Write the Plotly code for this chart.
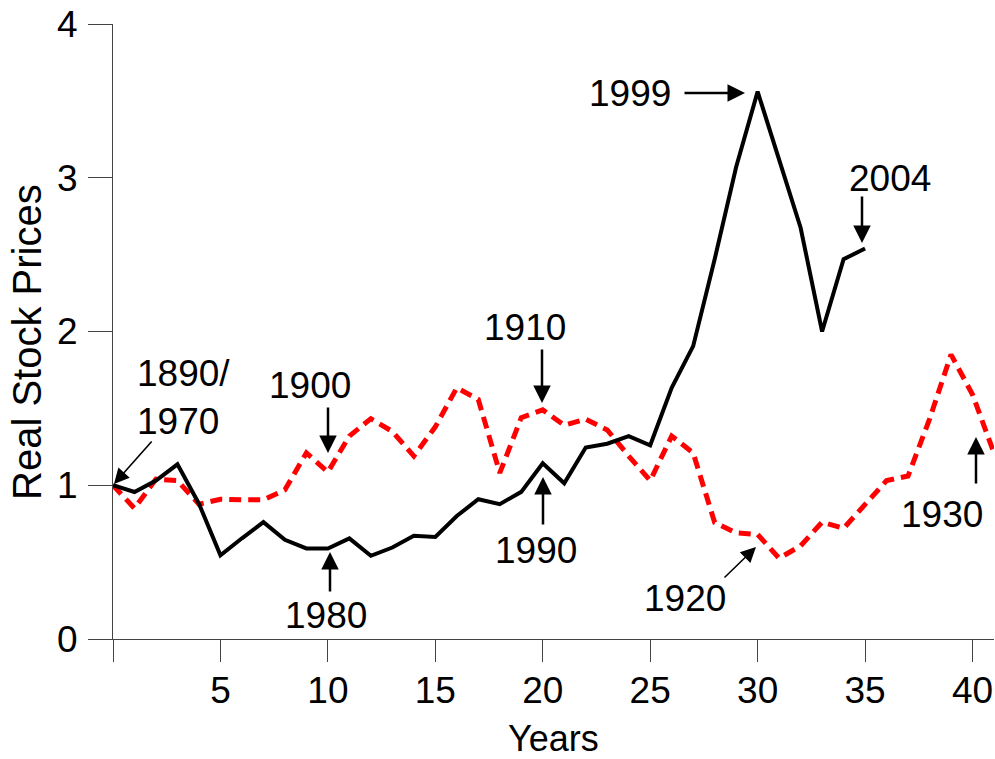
import plotly.graph_objects as go

# ---- data ----
years_black = list(range(0, 36))
black = [1.00, 0.956, 1.03, 1.136, 0.88, 0.545, 0.655, 0.76, 0.645, 0.589,
         0.589, 0.654, 0.541, 0.595, 0.671, 0.664, 0.80, 0.909, 0.877, 0.957,
         1.143, 1.013, 1.245, 1.27, 1.32, 1.26, 1.634, 1.905, 2.47, 3.07,
         3.56, 3.12, 2.675, 2.0, 2.47, 2.54]
years_red = list(range(0, 42))
red = [1.0, 0.85, 1.04, 1.03, 0.877, 0.909, 0.905, 0.905, 0.97, 1.21,
       1.086, 1.32, 1.433, 1.35, 1.19, 1.38, 1.634, 1.558, 1.08, 1.44,
       1.49, 1.39, 1.43, 1.36, 1.19, 1.03, 1.32, 1.21, 0.758, 0.69,
       0.68, 0.525, 0.606, 0.76, 0.72, 0.877, 1.03, 1.06, 1.43, 1.85,
       1.59, 1.21]
x_ticks = [0, 5, 10, 15, 20, 25, 30, 35, 40]
x_ticktext = ["", "5", "10", "15", "20", "25", "30", "35", "40"]
y_ticks = [0, 1, 2, 3, 4]

# ---- layout geometry ----
W, H = 995, 759
ML, MR, MT, MB = 113, 1, 24, 120
XMAX, YMAX = 41, 4
PXU = (W - ML - MR) / XMAX
PYU = (H - MT - MB) / YMAX
FONT = "Liberation Sans, Arial, sans-serif"

def dx(px):
    return (px - ML) / PXU

def dy(py):
    return (H - MB - py) / PYU

fig = go.Figure()
fig.add_trace(go.Scatter(x=years_red, y=red, mode="lines",
                         line=dict(color="#ff0000", width=5, dash="12px,7px")))
fig.add_trace(go.Scatter(x=years_black, y=black, mode="lines",
                         line=dict(color="#000000", width=4)))

# labels: (text, center px x, center px y, xanchor)
labels = [("1890/<br>1970", 135, 397, "left"),
          ("1900", 310, 385, "center"),
          ("1980", 326, 615, "center"),
          ("1910", 525, 327, "center"),
          ("1990", 536, 550, "center"),
          ("1920", 685, 598, "center"),
          ("1999", 630, 93, "center"),
          ("2004", 890, 178, "center"),
          ("1930", 942, 514, "center")]
# arrows: (tail px, head px, thin)
arrows = [((153, 440), (114, 484), True),
          ((328, 406), (328, 453), False),
          ((330, 593), (330, 552), False),
          ((542, 348), (542, 403), False),
          ((543, 526), (543, 477), False),
          ((723, 579), (756, 547), True),
          ((683, 93), (745, 93), False),
          ((862, 195), (862, 243), False),
          ((976, 485), (976, 437), False)]

anns = []
for t, px, py, xa in labels:
    anns.append(dict(text=t, x=dx(px), y=dy(py), xref="x", yref="y",
                     xanchor=xa, yanchor="middle", showarrow=False, align="left",
                     font=dict(family=FONT, size=37, color="#000")))
for (tx, ty), (hx, hy), thin in arrows:
    anns.append(dict(text="", x=dx(hx), y=dy(hy), xref="x", yref="y",
                     ax=tx - hx, ay=ty - hy, axref="pixel", ayref="pixel",
                     showarrow=True, arrowhead=2, arrowcolor="#000",
                     arrowwidth=1.6 if thin else 2.5,
                     arrowsize=1.9 if thin else 1.4))
anns.append(dict(text="Real Stock Prices", xref="paper", yref="paper",
                 x=(27 - ML) / (W - ML - MR), y=(H - MB - 342) / (H - MT - MB),
                 textangle=-90, showarrow=False, xanchor="center", yanchor="middle",
                 font=dict(family=FONT, size=40, color="#000")))
anns.append(dict(text="Years", xref="paper", yref="paper",
                 x=0.5, y=(H - MB - 738) / (H - MT - MB),
                 showarrow=False, xanchor="center", yanchor="middle",
                 font=dict(family=FONT, size=36, color="#000")))

fig.update_layout(
    width=W, height=H, margin=dict(l=ML, r=MR, t=MT, b=MB),
    paper_bgcolor="white", plot_bgcolor="white", showlegend=False,
    annotations=anns,
    xaxis=dict(range=[0, XMAX], tickvals=x_ticks, ticktext=x_ticktext,
               showgrid=False, zeroline=False, showline=True, linecolor="#444",
               linewidth=1, ticks="outside", ticklen=22, tickcolor="#444",
               tickfont=dict(family=FONT, size=37, color="#000"),
               ticklabelstandoff=-3),
    yaxis=dict(range=[0, YMAX], tickvals=y_ticks, showgrid=False, zeroline=False,
               showline=True, linecolor="#444", linewidth=1, ticks="outside",
               ticklen=24, tickcolor="#444",
               tickfont=dict(family=FONT, size=37, color="#000"),
               ticklabelstandoff=3),
)
fig.write_html("out.html", config={"displayModeBar": False},
               post_script="document.body.style.margin='0';document.body.style.padding='0';")
